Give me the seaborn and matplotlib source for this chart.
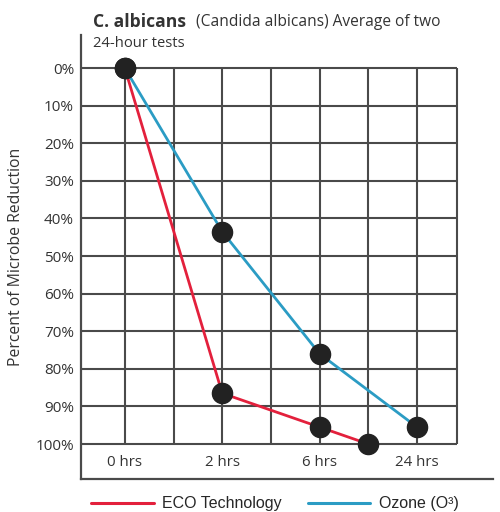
import matplotlib
matplotlib.use("Agg")
import matplotlib.pyplot as plt
import seaborn as sns
import pandas as pd
from matplotlib.lines import Line2D

# Time points (category positions) and reduction percentages
time_labels = ["0 hrs", "2 hrs", "6 hrs", "24 hrs"]
eco_x = [0, 1, 2, 2.5]
eco_y = [0, 86.5, 95.5, 100]
ozone_x = [0, 1, 2, 3]
ozone_y = [0, 43.5, 76, 95.5]
pct_ticks = list(range(0, 101, 10))

series_names = ["ECO Technology", "Ozone (O³)"]
series_colors = {"ECO Technology": "#e3203c", "Ozone (O³)": "#2b9cc4"}

df = pd.DataFrame({
    "time": eco_x + ozone_x,
    "reduction": eco_y + ozone_y,
    "series": [series_names[0]] * len(eco_x) + [series_names[1]] * len(ozone_x),
})

sns.set_theme(style="white")
plt.rcParams["font.family"] = ["Open Sans", "DejaVu Sans"]

fig = plt.figure(figsize=(5, 5.12), dpi=100)
ax = fig.add_axes([0.162, 0.0645, 0.824, 0.867])

x_left, x_right = -0.45, 3.78
grid_right = 3.41
ax.set_xlim(x_left, x_right)
ax.set_ylim(109.3, -8.8)

grid_col = "#4a4a4a"
text_col = "#333333"
# grid box
ax.hlines(pct_ticks, x_left, grid_right, color=grid_col, lw=1.5, zorder=1)
vx = [i * 0.5 for i in range(7)] + [grid_right]
ax.vlines(vx, 0, 100, color=grid_col, lw=1.5, zorder=1)

sns.lineplot(data=df, x="time", y="reduction", hue="series", palette=series_colors,
             sort=False, lw=2.0, legend=False, ax=ax, zorder=3)
for s in series_names:
    sub = df[df.series == s]
    ax.plot(sub.time, sub.reduction, "o", ms=14.5, color="#222222", zorder=4)

# axis styling
for side in ["top", "right"]:
    ax.spines[side].set_visible(False)
for side in ["left", "bottom"]:
    ax.spines[side].set_color(grid_col)
    ax.spines[side].set_linewidth(1.6)
ax.set_yticks(pct_ticks)
ax.set_yticklabels([f"{v}%" for v in pct_ticks], fontsize=11, color=text_col)
ax.tick_params(axis="y", length=0, pad=5)
ax.set_xticks([])
ax.set_xlabel("")
ax.set_ylabel("Percent of Microbe Reduction", fontsize=11.3, color=text_col, labelpad=8)

for i, lab in enumerate(time_labels):
    ax.text(i, 104.9, lab, ha="center", va="center", fontsize=10.8, color=text_col)

# title
t1 = fig.text(0.186, 0.957, "C. albicans", fontsize=12.6, fontweight="bold",
              color=text_col, ha="left", va="center")
ax.annotate("(Candida albicans) Average of two", xy=(1, 0.5), xycoords=t1,
            xytext=(7, 0), textcoords="offset points", fontsize=11.2,
            color=text_col, ha="left", va="center", annotation_clip=False)
fig.text(0.186, 0.916, "24-hour tests", fontsize=10.6, color=text_col,
         ha="left", va="center")

# legend
handles = [Line2D([0], [0], color=series_colors[s], lw=2.2) for s in series_names]
fig.legend(handles, series_names, loc="center", bbox_to_anchor=(0.55, 0.016),
           ncol=2, frameon=False, handlelength=3.9, handletextpad=0.55,
           columnspacing=1.6, prop={"family": "Liberation Sans", "size": 11.5})

fig.savefig("out.png", dpi=100)
